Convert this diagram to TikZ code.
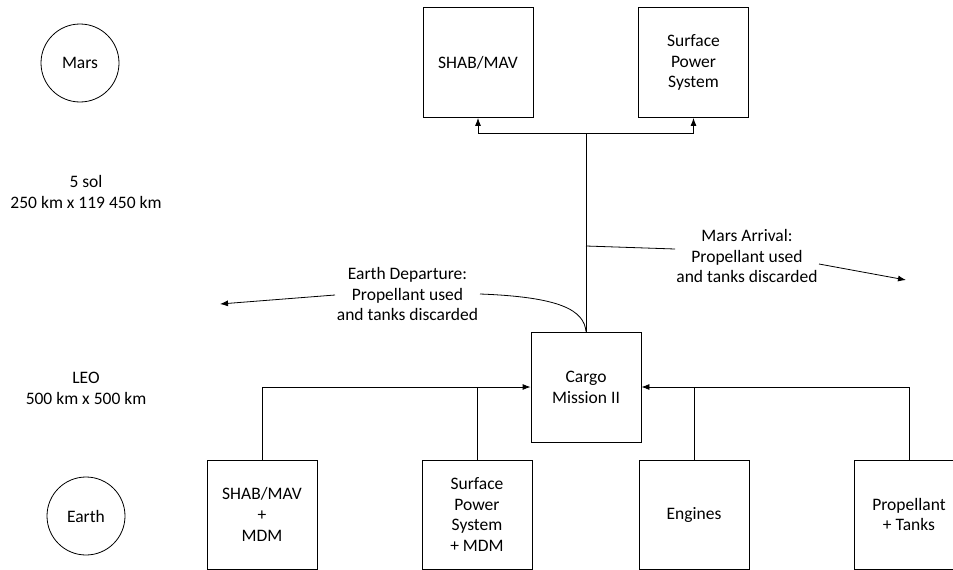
\documentclass[tikz,border=0pt]{standalone}
\usepackage{fontspec}
\setmainfont{Carlito}
\usetikzlibrary{arrows.meta}
\begin{document}
\begin{tikzpicture}[x=1pt,y=-1pt,
  font=\fontsize{17.5}{20.8}\selectfont,
  line width=0.8pt,
  box/.style={draw, minimum width=110pt, minimum height=110pt, align=center, inner sep=2pt},
  bbox/.style={box, minimum height=109pt},
  body/.style={draw, circle, minimum size=78pt, inner sep=0pt},
  lbl/.style={align=center, inner sep=0pt},
  arr/.style={-{Latex[length=8pt,width=6pt]}}]
\useasboundingbox (0,0) rectangle (953,570);
\clip (0,0) rectangle (953,570);

% celestial bodies
\node[body] (mars) at (80,63) {Mars};
\node[body] (earth) at (86,516) {Earth};

% orbit labels
\node[lbl] (orbmars) at (86,192) {5 sol\\250 km x 119 450 km};
\node[lbl] (orbleo) at (86,388.5) {LEO\\500 km x 500 km};

% Mars surface elements
\node[box] (shab) at (478,62.5) {SHAB/MAV};
\node[box] (sps) at (693.5,62.5) {Surface\\Power\\System};

% cargo mission
\node[box] (cargo) at (586,387) {Cargo\\Mission II};

% Earth-launched elements
\node[bbox] (b1) at (262,514.5) {SHAB/MAV\\+\\MDM};
\node[bbox] (b2) at (477,514.5) {Surface\\Power\\System\\+ MDM};
\node[bbox] (b3) at (694,514.5) {Engines};
\node[bbox] (b4) at (909,514.5) {Propellant\\+ Tanks};

% delivery to Mars surface
\coordinate (bus) at (586,133);
\draw (cargo.north) -- (bus);
\draw[arr] (bus) -| (shab.south);
\draw[arr] (bus) -| (sps.south);

% assembly in LEO
\draw[arr] (b1.north) |- (cargo.west);
\draw (b2.north) -- (b2.north |- cargo.west);
\draw[arr] (b4.north) |- (cargo.east);
\draw (b3.north) -- (b3.north |- cargo.east);

% Earth departure burn
\node[lbl] (ed) at (407.5,294) {Earth Departure:\\Propellant used\\and tanks discarded};
\coordinate (edR) at (480,294);
\coordinate (edL) at (335,295);
\coordinate (edEnd) at (220,304);
\draw (cargo.north) .. controls (584,310) and (560,297) .. (edR);
\draw[arr] (edL) -- (edEnd);

% Mars arrival burn
\node[lbl] (ma) at (747,256) {Mars Arrival:\\Propellant used\\and tanks discarded};
\coordinate (maStart) at (586,246);
\coordinate (maL) at (675,249);
\coordinate (maR) at (819,264);
\coordinate (maEnd) at (906,280);
\draw (maStart) -- (maL);
\draw[arr] (maR) -- (maEnd);
\end{tikzpicture}
\end{document}
